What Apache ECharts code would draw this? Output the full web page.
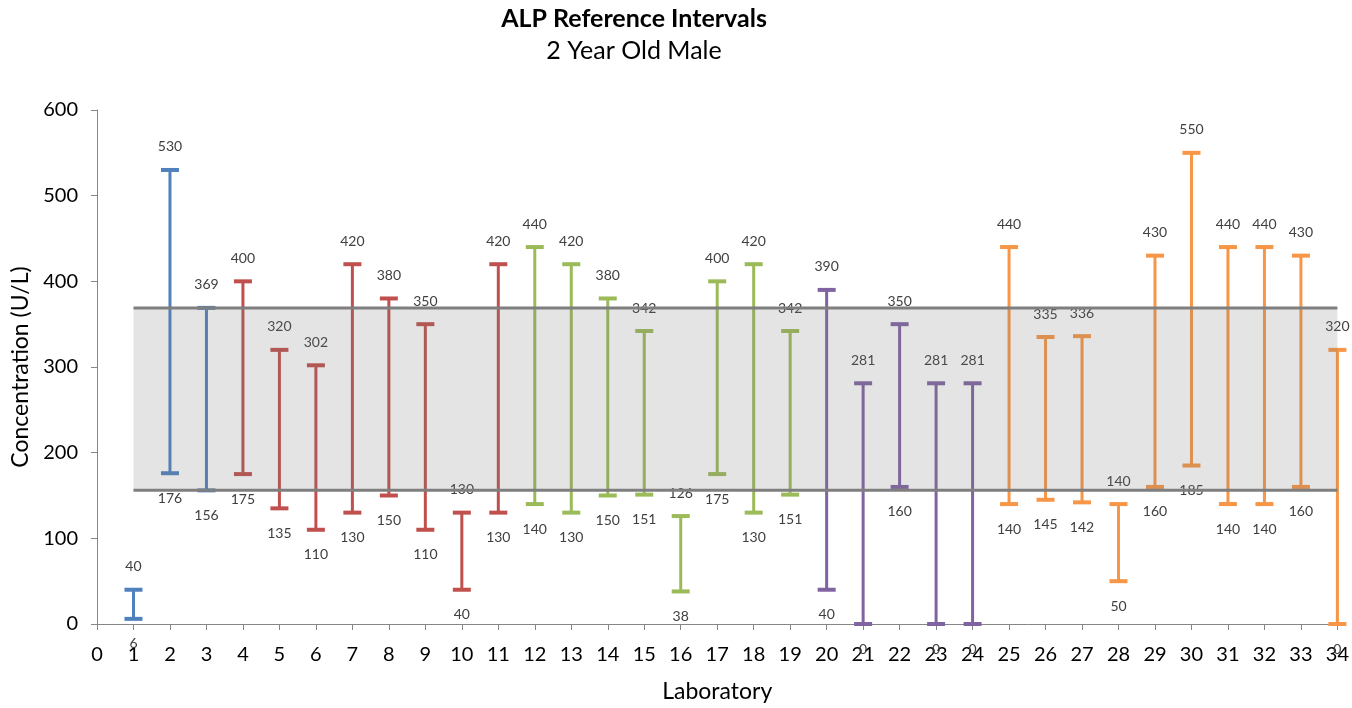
<!DOCTYPE html>
<html>
<head>
<meta charset="utf-8">
<script src="https://cdn.jsdelivr.net/npm/echarts@6/dist/echarts.min.js"></script>
<style>
  html, body { margin: 0; padding: 0; background: #fff; }
  #chart { width: 1352px; height: 708px; }
</style>
</head>
<body>
<div id="chart"></div>
<script>
// ALP reference intervals reported by each laboratory (U/L)
const labs  = [1, 2, 3, 4, 5, 6, 7, 8, 9, 10, 11, 12, 13, 14, 15, 16, 17, 18, 19, 20, 21, 22, 23, 24, 25, 26, 27, 28, 29, 30, 31, 32, 33, 34];
const lows  = [6, 176, 156, 175, 135, 110, 130, 150, 110, 40, 130, 140, 130, 150, 151, 38, 175, 130, 151, 40, 0, 160, 0, 0, 140, 145, 142, 50, 160, 185, 140, 140, 160, 0];
const highs = [40, 530, 369, 400, 320, 302, 420, 380, 350, 130, 420, 440, 420, 380, 342, 126, 400, 420, 342, 390, 281, 350, 281, 281, 440, 335, 336, 140, 430, 550, 440, 440, 430, 320];
// laboratory group of each interval (selects the colour)
const groups = [0, 0, 0, 1, 1, 1, 1, 1, 1, 1, 1, 2, 2, 2, 2, 2, 2, 2, 2, 3, 3, 3, 3, 3, 4, 4, 4, 4, 4, 4, 4, 4, 4, 4];
const groupColors = ['#4F81BD', '#C0504D', '#9BBB59', '#8064A2', '#F79646'];

// shaded consensus band
const bandLow = 156;
const bandHigh = 369;
const bandFrom = 1;
const bandTo = 34;

const xTicks = { min: 0, max: 34, interval: 1 };
const yTicks = { min: 0, max: 600, interval: 100 };

const FONT = 'Lato, "Open Sans", sans-serif';

const intervalData = labs.map((lab, i) => [lab, lows[i], highs[i], groups[i]]);

const chart = echarts.init(document.getElementById('chart'), null, { renderer: 'canvas' });

chart.setOption({
  animation: false,
  backgroundColor: '#ffffff',
  title: [
    {
      text: 'ALP Reference Intervals',
      left: 629, top: 1, textAlign: 'center',
      textStyle: { fontFamily: FONT, fontSize: 25, fontWeight: 'bold', color: '#000' }
    },
    {
      text: '2 Year Old Male',
      left: 629, top: 33, textAlign: 'center',
      textStyle: { fontFamily: FONT, fontSize: 25, fontWeight: 'normal', color: '#000' }
    }
  ],
  grid: { left: 97, right: 7, top: 110, bottom: 76 },
  xAxis: {
    type: 'value',
    min: xTicks.min, max: xTicks.max, interval: xTicks.interval,
    name: 'Laboratory',
    nameLocation: 'middle',
    nameGap: 56,
    nameTextStyle: { fontFamily: FONT, fontSize: 23, color: '#000' },
    axisLine: { show: true, lineStyle: { color: '#868686', width: 1 } },
    axisTick: { show: true, length: 6, lineStyle: { color: '#868686' } },
    axisLabel: { fontFamily: FONT, fontSize: 20, color: '#000', margin: 21 },
    splitLine: { show: false }
  },
  yAxis: {
    type: 'value',
    min: yTicks.min, max: yTicks.max, interval: yTicks.interval,
    name: 'Concentration (U/L)',
    nameLocation: 'middle',
    nameGap: 58,
    nameRotate: 90,
    nameTextStyle: { fontFamily: FONT, fontSize: 23, color: '#000' },
    axisLine: { show: true, lineStyle: { color: '#868686', width: 1 } },
    axisTick: { show: true, length: 6, lineStyle: { color: '#868686' } },
    axisLabel: { fontFamily: FONT, fontSize: 20, color: '#000', margin: 19 },
    splitLine: { show: false }
  },
  series: [
    {
      // one error bar per laboratory, with value labels above and below
      type: 'custom',
      clip: false,
      z: 2,
      data: intervalData,
      encode: { x: 0, y: [1, 2] },
      renderItem: function (params, api) {
        const x = api.value(0);
        const lo = api.value(1);
        const hi = api.value(2);
        const color = groupColors[api.value(3)];
        const pLo = api.coord([x, lo]);
        const pHi = api.coord([x, hi]);
        const capHalf = 9;
        const lineStyle = { stroke: color, lineWidth: 3 };
        const capStyle = { stroke: color, lineWidth: 4 };
        const labelStyle = {
          fill: '#404040', fontFamily: FONT, fontSize: 14,
          align: 'center', verticalAlign: 'middle'
        };
        return {
          type: 'group',
          children: [
            { type: 'line', shape: { x1: pLo[0], y1: pLo[1], x2: pHi[0], y2: pHi[1] }, style: lineStyle },
            { type: 'line', shape: { x1: pHi[0] - capHalf, y1: pHi[1], x2: pHi[0] + capHalf, y2: pHi[1] }, style: capStyle },
            { type: 'line', shape: { x1: pLo[0] - capHalf, y1: pLo[1], x2: pLo[0] + capHalf, y2: pLo[1] }, style: capStyle },
            { type: 'text', x: pHi[0], y: pHi[1] - 23, style: Object.assign({ text: String(hi) }, labelStyle) },
            { type: 'text', x: pLo[0], y: pLo[1] + 25, style: Object.assign({ text: String(lo) }, labelStyle) }
          ]
        };
      }
    },
    {
      // translucent consensus band with its boundary lines
      type: 'custom',
      clip: false,
      z: 5,
      silent: true,
      data: [[bandFrom, bandLow, bandTo, bandHigh]],
      encode: { x: [0, 2], y: [1, 3] },
      renderItem: function (params, api) {
        const p1 = api.coord([api.value(0), api.value(3)]);
        const p2 = api.coord([api.value(2), api.value(1)]);
        return {
          type: 'group',
          children: [
            {
              type: 'rect',
              shape: { x: p1[0], y: p1[1], width: p2[0] - p1[0], height: p2[1] - p1[1] },
              style: { fill: 'rgba(120,120,120,0.2)' }
            },
            { type: 'line', shape: { x1: p1[0], y1: p1[1], x2: p2[0], y2: p1[1] }, style: { stroke: '#7F7F7F', lineWidth: 3 } },
            { type: 'line', shape: { x1: p1[0], y1: p2[1], x2: p2[0], y2: p2[1] }, style: { stroke: '#7F7F7F', lineWidth: 3 } }
          ]
        };
      }
    }
  ]
});
</script>
</body>
</html>
